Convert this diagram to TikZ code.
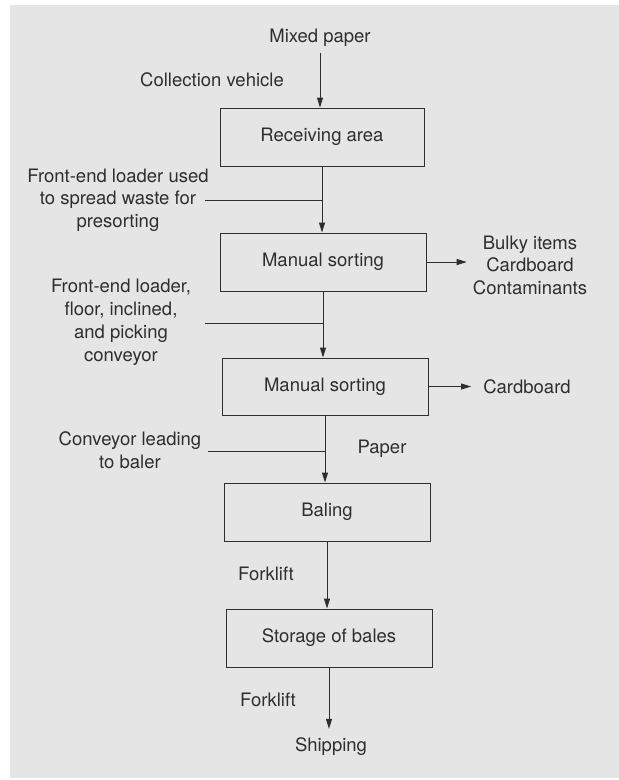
\documentclass[tikz,border=0pt]{standalone}
\usepackage{fontspec}
\setmainfont{TeX Gyre Heros}
\usetikzlibrary{arrows.meta}
\definecolor{paper}{HTML}{E5E5E5}
\definecolor{ink}{HTML}{2E2E2E}

\begin{document}
\begin{tikzpicture}[x=1pt,y=-1pt,
  font=\fontsize{18.5}{22.5}\selectfont, text=ink,
  stage/.style={draw=ink, line width=0.9pt, minimum width=206pt,
                minimum height=58pt, inner sep=0pt},
  flow/.style={draw=ink, line width=0.9pt, -{Triangle[length=10pt,width=6pt]}},
  feed/.style={draw=ink, line width=0.7pt},
  lbl/.style={inner sep=0pt, align=center}]

% sheet
\useasboundingbox (0,0) rectangle (619,780);
\fill[white] (0,0) rectangle (619,780);
\fill[paper] (10,5) rectangle (619,778);

% process stages
\node[stage, minimum width=204pt] (recv) at (322,137) {Receiving area};
\node[stage] (sort1) at (323,262) {Manual sorting};
\node[stage, minimum height=57pt] (sort2) at (325,386.5) {Manual sorting};
\node[stage] (bale) at (327,512) {Baling};
\node[stage] (store) at (329,638) {Storage of bales};

% labels
\node[lbl] (mixed) at (320,38) {Mixed paper};
\node[lbl] (vehicle) at (212,80) {Collection vehicle};
\node[lbl] (fel1) at (118,200) {Front-end loader used\\to spread waste for\\presorting};
\node[lbl] (rej1) at (530,265) {Bulky items\\Cardboard\\Contaminants};
\node[lbl, font=\fontsize{18.5}{23}\selectfont] (fel2) at (121,322.5)
  {Front-end loader,\\floor, inclined,\\and picking\\conveyor};
\node[lbl] (card) at (527,387) {Cardboard};
\node[lbl] (conv) at (130,450) {Conveyor leading\\to baler};
\node[lbl] (paperlbl) at (382,449) {Paper};
\node[lbl] (fork1) at (266,574) {Forklift};
\node[lbl] (fork2) at (268,700) {Forklift};
\node[lbl] (ship) at (331,747) {Shipping};

% main flow
\draw[flow] ([yshift=-6pt]mixed.south) -- (mixed.south |- recv.north);
\draw[flow] (recv.south) -- (recv.south |- sort1.north);
\draw[flow] (sort1.south) -- (sort1.south |- sort2.north);
\draw[flow] (sort2.south) -- (sort2.south |- bale.north);
\draw[flow] (bale.south) -- (bale.south |- store.north);
\draw[flow, shorten >=9pt] (store.south) -- (store.south |- ship.north);

% rejects
\draw[flow, shorten >=6pt] (sort1.east) -- (sort1.east -| rej1.west);
\draw[flow, shorten >=12pt] (sort2.east) -- (sort2.east -| card.west);

% equipment leaders
\coordinate (f1) at (205,200);
\draw[feed] (f1) -- (f1 -| recv.south);
\coordinate (f2) at (205,323);
\draw[feed] (f2) -- (f2 -| sort1.south);
\coordinate (f3) at (208,451);
\draw[feed] (f3) -- (f3 -| sort2.south);
\end{tikzpicture}
\end{document}
